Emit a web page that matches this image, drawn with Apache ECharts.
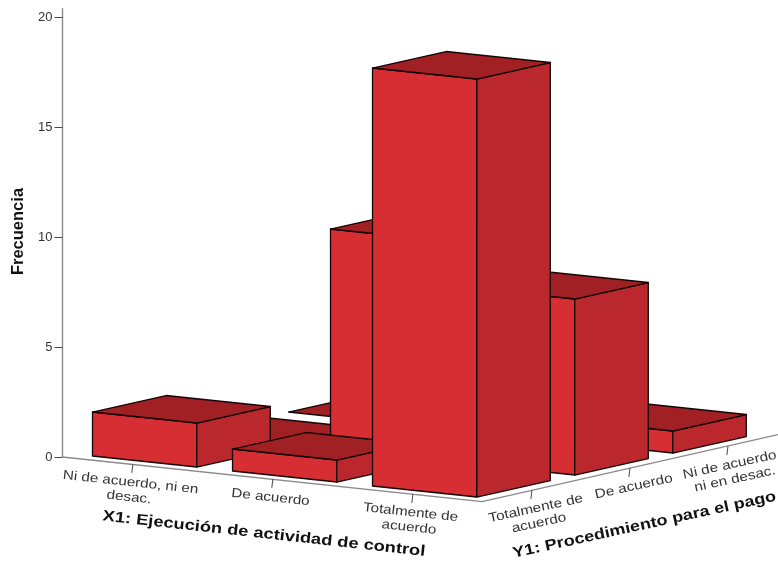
<!DOCTYPE html>
<html>
<head>
<meta charset="utf-8">
<style>html,body{margin:0;padding:0;background:#fff}#chart{width:778px;height:561px}</style>
<script src="https://cdn.jsdelivr.net/npm/echarts@6/dist/echarts.min.js"></script>
</head>
<body>
<div id="chart"></div>
<script>
// Categories along the two floor axes
const x1Categories = ['Ni de acuerdo, ni en\ndesac.', 'De acuerdo', 'Totalmente de\nacuerdo'];
const y1Categories = ['Totalmente de\nacuerdo', 'De acuerdo', 'Ni de acuerdo,\nni en desac.'];

// Frequencies per Y1 row, in x1Categories order
const y1Totalmente = [2, 1, 19];
const y1DeAcuerdo = [0, 10, 8];
const y1NiDeAcuerdo = [0, 0, 1];
const frequencyRows = [y1Totalmente, y1DeAcuerdo, y1NiDeAcuerdo];

const frequencyTicks = { min: 0, max: 20, interval: 5 };

// Oblique projection of the floor, in units of the frequency axis
const X_STEP = [6.364, -0.682];
const Y_STEP = [4.4545, 1.0];
const BAR_WIDTH = [4.74, -0.5];
const BAR_DEPTH = [3.34, 0.75];
const BAR_ORIGIN = [1.364, 0.045];
const FLOOR_CORNER = [19.07, -2.03];
const FLOOR_END = [32.52, 1.02];
const X_TICK_START = [3.2, -0.32];
const Y_TICK_START = [2.27, 0.52];
const TICK_VECTOR = [-0.05, -0.4];
const X_LABEL_OFFSET = [-0.02, -0.1];
const Y_LABEL_OFFSET = [0.15, -0.1];

const COLORS = { front: '#d62e33', side: '#ba272c', top: '#a02024', edge: '#140606', axis: '#8a8a8a', tick: '#4a4a4a', text: '#333333', title: '#111111' };
const FONT = 'Liberation Sans, Arial, sans-serif';

const add = (...vs) => vs.reduce((a, b) => [a[0] + b[0], a[1] + b[1]], [0, 0]);
const mul = (v, k) => [v[0] * k, v[1] * k];

// Back rows first and left to right, so nearer bars cover farther ones
const barData = [];
for (let j = frequencyRows.length - 1; j >= 0; j--) {
  frequencyRows[j].forEach((value, i) => barData.push([i, j, value]));
}

function face(api, corners, fill) {
  return {
    type: 'polygon',
    shape: { points: corners.map(c => api.coord(c)) },
    style: { fill, stroke: COLORS.edge, lineWidth: 1.3, lineJoin: 'round' }
  };
}

function renderBar(params, api) {
  const i = api.value(0), j = api.value(1), value = api.value(2);
  const base = add(BAR_ORIGIN, mul(X_STEP, i), mul(Y_STEP, j));
  const up = [0, value];
  const fl = base, fr = add(base, BAR_WIDTH);
  const rl = add(base, BAR_DEPTH), rr = add(fr, BAR_DEPTH);
  const children = [];
  if (value > 0) {
    children.push(face(api, [fl, fr, add(fr, up), add(fl, up)], COLORS.front));
    children.push(face(api, [fr, rr, add(rr, up), add(fr, up)], COLORS.side));
  }
  children.push(face(api, [add(fl, up), add(fr, up), add(rr, up), add(rl, up)], COLORS.top));
  return { type: 'group', children };
}

function line(api, a, b, stroke, lineWidth) {
  const p = api.coord(a), q = api.coord(b);
  return { type: 'line', shape: { x1: p[0], y1: p[1], x2: q[0], y2: q[1] }, style: { stroke, lineWidth } };
}

function rotatedText(api, at, text, rotation, fontSize, fontWeight, fill, scaleX, verticalAlign) {
  const p = api.coord(at);
  return {
    type: 'text', x: p[0], y: p[1], rotation, scaleX, scaleY: 1,
    style: { text, x: 0, y: 0, align: 'center', verticalAlign, fontSize, fontWeight, fontFamily: FONT, fill, lineHeight: fontSize + 2 }
  };
}

// Floor axes, their category ticks and labels, and the axis titles
function renderFloor(params, api) {
  const children = [
    line(api, [0, 20], [0, 20.4], COLORS.axis, 1.4),
    line(api, [0, 0], FLOOR_CORNER, COLORS.axis, 1.3),
    line(api, FLOOR_CORNER, FLOOR_END, COLORS.axis, 1.3)
  ];
  x1Categories.forEach((name, i) => {
    const start = add(X_TICK_START, mul(X_STEP, i));
    const end = add(start, TICK_VECTOR);
    children.push(line(api, start, end, COLORS.tick, 1));
    children.push(rotatedText(api, add(end, X_LABEL_OFFSET), name, -0.107, 13, 'normal', COLORS.text, 1.17, 'top'));
  });
  y1Categories.forEach((name, j) => {
    const start = add(Y_TICK_START, FLOOR_CORNER, mul(Y_STEP, j));
    const end = add(start, TICK_VECTOR);
    children.push(line(api, start, end, COLORS.tick, 1));
    children.push(rotatedText(api, add(end, Y_LABEL_OFFSET), name, 0.215, 13, 'normal', COLORS.text, 1.18, 'top'));
  });
  children.push(rotatedText(api, [9.16, -3.5], 'X1: Ejecución de actividad de control', -0.11, 15, 'bold', COLORS.title, 1.22, 'middle'));
  children.push(rotatedText(api, [26.45, -3.09], 'Y1: Procedimiento para el pago', 0.215, 15, 'bold', COLORS.title, 1.2, 'middle'));
  children.push(rotatedText(api, [-2.02, 10.25], 'Frecuencia', Math.PI / 2, 16.5, 'bold', COLORS.title, 1, 'middle'));
  return { type: 'group', children };
}

const chart = echarts.init(document.getElementById('chart'), null, { renderer: 'canvas' });
chart.setOption({
  animation: false,
  backgroundColor: '#ffffff',
  grid: { left: 62.5, top: 17, width: 704, height: 440, outerBoundsMode: 'none' },
  xAxis: { type: 'value', min: 0, max: 32, show: false },
  yAxis: {
    type: 'value',
    min: frequencyTicks.min, max: frequencyTicks.max, interval: frequencyTicks.interval,
    axisLine: { show: true, lineStyle: { color: COLORS.axis, width: 1.4 } },
    axisTick: { show: true, length: 8, lineStyle: { color: COLORS.tick, width: 1 } },
    axisLabel: { fontFamily: FONT, fontSize: 13, color: COLORS.text, margin: 10 },
    splitLine: { show: false }
  },
  series: [
    { type: 'custom', coordinateSystem: 'cartesian2d', silent: true, z: 2, data: [[0, 0]], encode: { x: 0, y: 1 }, renderItem: renderFloor },
    { type: 'custom', coordinateSystem: 'cartesian2d', silent: true, z: 3, data: barData, encode: { x: 0, y: 2 }, renderItem: renderBar }
  ]
});
</script>
</body>
</html>
